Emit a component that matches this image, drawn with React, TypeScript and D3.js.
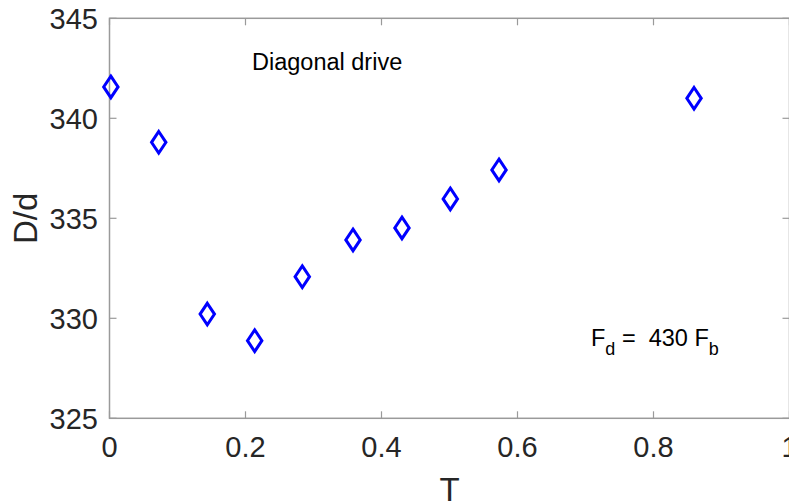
import React from "react";
import * as d3 from "d3";

// Measured series: normalised time T against D/d
const tValues = [0.002, 0.0724, 0.1438, 0.2135, 0.2835, 0.3581, 0.4301, 0.5012, 0.5728, 0.8596];
const ddValues = [341.57, 338.8, 330.21, 328.88, 332.08, 333.92, 334.52, 335.97, 337.42, 341.0];

const xTicks = [0, 0.2, 0.4, 0.6, 0.8, 1];
const yTicks = [325, 330, 335, 340, 345];
const xTickLabels = ["0", "0.2", "0.4", "0.6", "0.8", "1"];
const yTickLabels = ["325", "330", "335", "340", "345"];

const W = 789;
const H = 504;
const left = 109.5;
const right = 789.5;
const top = 18.3;
const bottom = 418.3;

const FONT = "'Liberation Sans', Arial, Helvetica, sans-serif";
const TEXT = "#262626";
const AXIS = "#9a9a9a";

export default function App() {
  const x = d3.scaleLinear().domain([0, 1]).range([left, right]);
  const y = d3.scaleLinear().domain([325, 345]).range([bottom, top]);
  const tick = 7;

  // diamond marker path centred at origin
  const hw = 7.2;
  const hh = 10.8;
  const diamond = `M0,${-hh}L${hw},0L0,${hh}L${-hw},0Z`;

  return (
    <svg
      width={W}
      height={H}
      style={{ position: "absolute", left: 0, top: 0, display: "block", background: "#fff" }}
    >
      <rect x={0} y={0} width={W} height={H} fill="#fff" />
      {/* axes box */}
      <rect
        x={left}
        y={top}
        width={right - left}
        height={bottom - top}
        fill="none"
        stroke={AXIS}
        strokeWidth={1.5}
      />
      {/* x ticks (bottom and top, inward) */}
      {xTicks.map((t, i) => (
        <g key={"xt" + i}>
          <line x1={x(t)} x2={x(t)} y1={bottom} y2={bottom - tick} stroke={AXIS} strokeWidth={1.2} />
          <line x1={x(t)} x2={x(t)} y1={top} y2={top + tick} stroke={AXIS} strokeWidth={1.2} />
          <text
            x={x(t)}
            y={457}
            textAnchor="middle"
            fontFamily={FONT}
            fontSize={29}
            fill={TEXT}
          >
            {xTickLabels[i]}
          </text>
        </g>
      ))}
      {/* y ticks (left and right, inward) */}
      {yTicks.map((v, i) => (
        <g key={"yt" + i}>
          <line x1={left} x2={left + tick} y1={y(v)} y2={y(v)} stroke={AXIS} strokeWidth={1.2} />
          <line x1={right} x2={right - tick} y1={y(v)} y2={y(v)} stroke={AXIS} strokeWidth={1.2} />
          <text
            x={98}
            y={y(v) + 10.5}
            textAnchor="end"
            fontFamily={FONT}
            fontSize={29}
            fill={TEXT}
          >
            {yTickLabels[i]}
          </text>
        </g>
      ))}
      {/* axis labels */}
      <text x={(left + right) / 2} y={501} textAnchor="middle" fontFamily={FONT} fontSize={33} fill={TEXT}>
        T
      </text>
      <text
        transform={`translate(37,${(top + bottom) / 2}) rotate(-90)`}
        textAnchor="middle"
        fontFamily={FONT}
        fontSize={33}
        fill={TEXT}
      >
        D/d
      </text>
      {/* annotations */}
      <text x={252} y={70} fontFamily={FONT} fontSize={23.5} fill="#000">
        Diagonal drive
      </text>
      <text x={591} y={345.5} fontFamily={FONT} fontSize={23.5} fill="#000" style={{ whiteSpace: "pre" }}>
        <tspan>F</tspan>
        <tspan fontSize={18} dy={9}>d</tspan>
        <tspan dy={-9}>{" =  430 F"}</tspan>
        <tspan fontSize={18} dy={9}>b</tspan>
      </text>
      {/* data markers */}
      {tValues.map((t, i) => (
        <path
          key={"p" + i}
          d={diamond}
          transform={`translate(${x(t)},${y(ddValues[i])})`}
          fill="none"
          stroke="#0000ff"
          strokeWidth={3}
          strokeLinejoin="miter"
        />
      ))}
    </svg>
  );
}
